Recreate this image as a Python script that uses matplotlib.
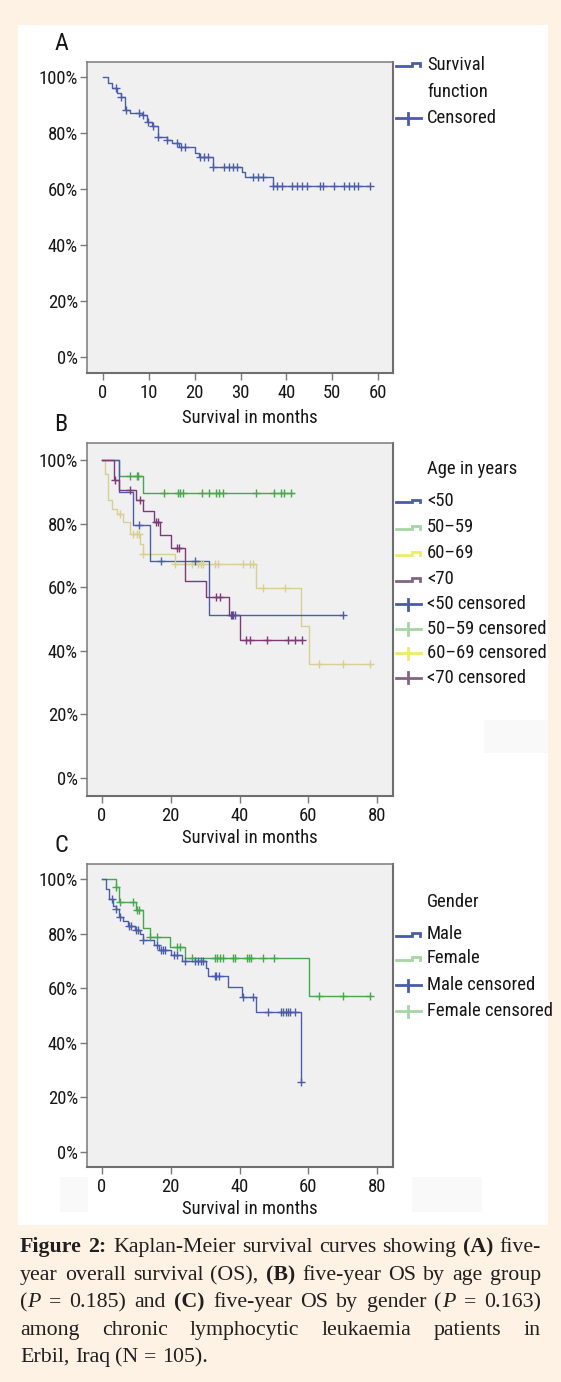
import numpy as np
import matplotlib
matplotlib.use("Agg")
import matplotlib.pyplot as plt
from matplotlib.lines import Line2D
from matplotlib.patches import Rectangle
from matplotlib import font_manager as fm

W, H = 561, 1382
DPI = 100

# ---------------- data ----------------
# Panel A: overall survival
a_times = [0, 1.0, 1.9, 3.0, 3.9, 4.8, 5.9, 8.5, 9.5, 10.8, 11.9, 13.9, 15.0, 16.6, 20.1, 21.0, 24.1, 30.3, 31.0, 37.0]
a_surv = [100, 98.0, 96.0, 94.4, 92.7, 88.2, 87.3, 86.4, 84.0, 82.6, 78.7, 77.5, 76.3, 74.9, 73.0, 71.5, 68.0, 66.2, 64.2, 61.1]
a_end = 58.3
a_cens = [2.8, 3.9, 4.95, 7.9, 8.8, 9.9, 10.85, 12.1, 14.05, 16.1, 17.0, 17.9, 21.2, 22.1, 23.0, 24.1,
          26.3, 27.4, 28.3, 29.2, 32.8, 33.9, 34.9, 37.1, 37.9, 39.0, 41.2, 42.3, 43.4, 44.5, 47.4, 48.1,
          50.3, 52.5, 53.6, 54.7, 55.7, 58.3]

# Panel B: by age group
b_lt50_times = [0, 5.0, 9.1, 14.0, 31.1]
b_lt50_surv = [100, 89.9, 79.7, 68.2, 51.2]
b_lt50_end = 70.2
b_lt50_cens = [10.85, 17.05, 27.0, 37.4, 38.0, 38.7, 70.2]

b_5059_times = [0, 5.0, 12.0]
b_5059_surv = [100, 95.1, 89.6]
b_5059_end = 55.6
b_5059_cens = [8.1, 10.1, 10.6, 18.0, 22.2, 22.7, 23.6, 29.0, 31.2, 33.1, 34.1, 35.1, 44.9, 50.1, 52.2, 52.9, 55.1]

b_6069_times = [0, 0.9, 1.8, 2.8, 4.3, 6.0, 8.1, 11.0, 11.8, 21.2, 44.8, 58.0, 60.2]
b_6069_surv = [100, 95.7, 87.3, 84.7, 82.9, 80.5, 76.8, 73.7, 70.5, 67.2, 59.8, 47.8, 35.8]
b_6069_end = 78.1
b_6069_cens = [5.2, 9.1, 10.1, 10.85, 12.0, 21.2, 26.1, 28.0, 28.7, 29.3, 32.8, 33.8, 41.1, 43.0, 44.0,
               46.7, 53.2, 63.2, 70.2, 78.1]

b_ge70_times = [0, 3.6, 5.0, 10.0, 12.0, 15.1, 16.9, 20.0, 24.1, 30.2, 36.9, 40.1]
b_ge70_surv = [100, 93.8, 90.6, 87.3, 83.9, 80.5, 76.5, 72.4, 61.9, 56.9, 51.2, 43.3]
b_ge70_end = 58.3
b_ge70_cens = [3.8, 8.1, 11.0, 15.7, 16.4, 21.9, 22.3, 33.3, 34.3, 37.7, 42.0, 43.0, 48.1, 54.2, 56.1, 58.3]

# Panel C: by gender
c_male_times = [0, 1.2, 2.1, 3.3, 4.1, 5.0, 6.2, 7.6, 9.6, 11.0, 11.8, 15.1, 16.7, 20.0, 23.2, 30.2, 30.9,
                36.7, 40.6, 44.8, 58.0]
c_male_surv = [100, 96.3, 92.7, 90.2, 89.0, 86.2, 84.5, 82.9, 81.3, 79.9, 77.7, 76.0, 74.0, 72.0, 69.9, 67.4,
               64.3, 60.4, 56.7, 51.3, 25.7]
c_male_end = 58.0
c_male_cens = [3.0, 4.1, 5.2, 7.95, 8.3, 9.9, 10.6, 12.0, 16.1, 17.05, 17.8, 18.4, 20.9, 21.9, 24.1, 27.0,
               28.0, 28.7, 29.5, 32.8, 33.3, 34.1, 41.1, 43.8, 48.2, 52.0, 52.7, 53.5, 54.2, 54.8, 56.1, 58.0]

c_fem_times = [0, 4.0, 5.0, 10.0, 12.0, 13.9, 19.9, 24.1, 60.1]
c_fem_surv = [100, 96.9, 91.4, 88.6, 82.0, 78.9, 75.0, 71.1, 57.0]
c_fem_end = 78.1
c_fem_cens = [4.1, 5.1, 9.1, 10.3, 10.85, 14.0, 16.1, 21.9, 22.7, 26.1, 32.8, 33.5, 34.3, 35.1, 38.0, 38.7,
              42.1, 42.7, 43.2, 46.9, 50.0, 63.1, 70.2, 78.1]

a_xticks = [0, 10, 20, 30, 40, 50, 60]
bc_xticks = [0, 20, 40, 60, 80]
y_ticks = [0, 20, 40, 60, 80, 100]
y_ticklabels = ["0%", "20%", "40%", "60%", "80%", "100%"]

a_legend = ["Survival\nfunction", "Censored"]
b_legend_title = "Age in years"
b_legend = ["<50", "50\u201359", "60\u201369", "<70",
            "<50 censored", "50\u201359 censored", "60\u201369 censored", "<70 censored"]
c_legend_title = "Gender"
c_legend = ["Male", "Female", "Male censored", "Female censored"]

caption_lines = [
    "*Figure 2:* Kaplan-Meier survival curves showing *(A)* five-",
    "year overall survival (OS), *(B)* five-year OS by age group",
    "(~P~ = 0.185) and *(C)* five-year OS by gender (~P~ = 0.163)",
    "among chronic lymphocytic leukaemia patients in",
    "Erbil, Iraq (N = 105).",
]

# ---------------- fonts ----------------
pref = ["Liberation Sans Narrow", "Roboto Condensed", "Open Sans Condensed", "Noto Sans Condensed",
        "DejaVu Sans Condensed"]
chosen = None
entries = fm.fontManager.ttflist
for p in pref:
    for f in entries:
        if f.name == p and f.style == "normal":
            chosen = (f.name, f.stretch)
            break
    if chosen:
        break
if chosen is None:
    for f in entries:
        if f.style == "normal" and str(f.stretch) in ("condensed", "semi-condensed") and "Sans" in f.name \
                and "Mono" not in f.name and "CJK" not in f.name:
            chosen = (f.name, f.stretch)
            break
if chosen is None:
    chosen = ("Roboto", "normal")

FONT = [chosen[0], "DejaVu Sans"]
plt.rcParams["font.family"] = FONT
plt.rcParams["font.stretch"] = chosen[1]

CAP_FONT = ["Liberation Serif", "DejaVu Serif"]
TXT = "#161616"
BG = "#fdf2e3"
AX_BG = "#f0f0f0"
SPINE = "#7a7a7a"
BLUE = "#4a5cab"
GREEN = "#45a84b"
TAN = "#d8cf92"
PURPLE = "#7e3a76"
L_GREEN = "#a6d6a6"
L_YELLOW = "#ecec6a"
L_PURPLE = "#836583"

fig = plt.figure(figsize=(W / DPI, H / DPI), dpi=DPI, facecolor=BG)
renderer = fig.canvas.get_renderer()


def text_w(s, size, **kw):
    t = fig.text(0, 0, s, fontsize=size, **kw)
    w = t.get_window_extent(renderer).width
    t.remove()
    return w


# choose chart font size so widths match the reference
ref = [("50\u201359 censored", 111.0), ("Female censored", 115.0), ("100%", 43.0)]
scales = [tw / text_w(s, 15) for s, tw in ref]
FS = min(15.5, 15 * float(np.mean(scales)) * 1.02)


def fx(x):
    return x / W


def fy(y):
    return 1 - y / H


# white panel
fig.add_artist(Rectangle((fx(18), fy(1225)), fx(548) - fx(18), fy(25) - fy(1225),
                         transform=fig.transFigure, facecolor="white", edgecolor="none", zorder=0))
for (x0, y0, x1, y1) in [(484, 720, 548, 753), (60, 1177, 88, 1212), (412, 1177, 482, 1212)]:
    fig.add_artist(Rectangle((fx(x0), fy(y1)), fx(x1) - fx(x0), fy(y0) - fy(y1),
                             transform=fig.transFigure, facecolor="#f9f9f9", edgecolor="none", zorder=0.5))


def make_ax(l, t, r, b, xlim, ylim, xticks):
    ax = fig.add_axes([fx(l), fy(b), fx(r) - fx(l), fy(t) - fy(b)])
    ax.set_facecolor(AX_BG)
    ax.set_xlim(*xlim)
    ax.set_ylim(*ylim)
    ax.set_xticks(xticks)
    ax.set_xticklabels([str(v) for v in xticks])
    ax.set_yticks(y_ticks)
    ax.set_yticklabels(y_ticklabels)
    for s in ax.spines.values():
        s.set_color(SPINE)
        s.set_linewidth(1.1)
    for k in ("right", "bottom"):
        ax.spines[k].set_linewidth(1.5)
        ax.spines[k].set_color("#6e6e6e")
    ax.tick_params(axis="both", direction="out", length=5, width=1, color=SPINE,
                   labelsize=FS, labelcolor=TXT)
    ax.tick_params(axis="y", pad=1.5)
    ax.tick_params(axis="x", pad=3)
    return ax


def km(ax, times, surv, end, cens, color, ccolor=None):
    xs = list(times) + [end]
    ys = list(surv) + [surv[-1]]
    ax.step(xs, ys, where="post", color=color, lw=1.0, zorder=3)
    t = np.asarray(times)
    s = np.asarray(surv)
    idx = np.searchsorted(t, np.asarray(cens), side="right") - 1
    ax.plot(cens, s[idx], linestyle="none", marker="+", ms=6, mew=1.0,
            color=ccolor or color, zorder=4)


axA = make_ax(87, 62, 393, 373, (-3.49, 63.27), (-5.71, 105.36), a_xticks)
km(axA, a_times, a_surv, a_end, a_cens, BLUE)

axB = make_ax(87, 443, 393, 796, (-4.36, 84.65), (-5.66, 105.35), bc_xticks)
km(axB, b_6069_times, b_6069_surv, b_6069_end, b_6069_cens, TAN)
km(axB, b_5059_times, b_5059_surv, b_5059_end, b_5059_cens, GREEN)
km(axB, b_lt50_times, b_lt50_surv, b_lt50_end, b_lt50_cens, BLUE)
km(axB, b_ge70_times, b_ge70_surv, b_ge70_end, b_ge70_cens, PURPLE)

axC = make_ax(87, 864, 393, 1167, (-4.36, 84.65), (-5.49, 105.5), bc_xticks)
km(axC, c_fem_times, c_fem_surv, c_fem_end, c_fem_cens, GREEN)
km(axC, c_male_times, c_male_surv, c_male_end, c_male_cens, BLUE)

# panel letters and x labels
for letter, y in [("A", 43), ("B", 424), ("C", 845)]:
    fig.text(fx(61), fy(y), letter, fontsize=FS * 1.3, ha="center", va="center", color=TXT)
for y in [418, 838, 1209]:
    fig.text(fx(250), fy(y), "Survival in months", fontsize=FS, ha="center", va="center", color=TXT)


# legends
def step_glyph(c, color):
    xs = [396, 412, 412, 420, 420]
    ys = [c + 1.5, c + 1.5, c - 1.5, c - 1.5, c + 1.5]
    fig.add_artist(Line2D([fx(v) for v in xs], [fy(v) for v in ys], transform=fig.transFigure,
                          color=color, lw=2.0, solid_joinstyle="miter"))


def cens_glyph(c, color):
    fig.add_artist(Line2D([fx(396), fx(421)], [fy(c), fy(c)], transform=fig.transFigure, color=color, lw=2.0))
    fig.add_artist(Line2D([fx(408), fx(408)], [fy(c - 5.5), fy(c + 5.5)], transform=fig.transFigure,
                          color=color, lw=2.0))


def leg_text(y, s):
    fig.text(fx(427), fy(y), s, fontsize=FS, ha="left", va="center", color=TXT)


# A
step_glyph(64, BLUE)
leg_text(65, a_legend[0].split("\n")[0])
leg_text(92, a_legend[0].split("\n")[1])
cens_glyph(118, BLUE)
leg_text(118, a_legend[1])

# B
leg_text(469, b_legend_title)
b_cols = [BLUE, L_GREEN, L_YELLOW, L_PURPLE]
b_ys = [501, 527, 553, 579, 604, 629, 653, 678]
for i, (lab, y) in enumerate(zip(b_legend, b_ys)):
    if i < 4:
        step_glyph(y, b_cols[i])
    else:
        cens_glyph(y, b_cols[i - 4])
    leg_text(y, lab)

# C
leg_text(902, c_legend_title)
c_cols = [BLUE, L_GREEN]
c_ys = [934, 958, 985, 1011]
for i, (lab, y) in enumerate(zip(c_legend, c_ys)):
    if i < 2:
        step_glyph(y, c_cols[i])
    else:
        cens_glyph(y, c_cols[i - 2])
    leg_text(y, lab)

# caption (justified)
CAP_COL = "#231f20"


def parse(line):
    segs = []
    bold = ital = False
    buf = ""
    for ch in line:
        if ch in "*~":
            if buf:
                segs.append((buf, bold, ital))
                buf = ""
            if ch == "*":
                bold = not bold
            else:
                ital = not ital
        else:
            buf += ch
    if buf:
        segs.append((buf, bold, ital))
    words = [[]]
    for txt, b, it in segs:
        parts = txt.split(" ")
        for j, p in enumerate(parts):
            if j > 0:
                words.append([])
            if p:
                words[-1].append((p, b, it))
    return [w for w in words if w]


def seg_w(size, s, b, it):
    return text_w(s, size, family=CAP_FONT, weight="bold" if b else "normal",
                  style="italic" if it else "normal")


L, R = 20, 541
parsed = [parse(l) for l in caption_lines]


def natural(size, words):
    sp = seg_w(size, "a a", False, False) - seg_w(size, "aa", False, False)
    return sum(seg_w(size, *sg) for w in words for sg in w) + sp * (len(words) - 1)


base_size = 14.6
nat = max(natural(base_size, parsed[k]) for k in range(3))
CAP_FS = min(16.0, base_size * (R - L) / nat * 0.985)
space_w = seg_w(CAP_FS, "a a", False, False) - seg_w(CAP_FS, "aa", False, False)

baselines = [1252, 1280, 1307, 1335, 1362]
for k, (words, base) in enumerate(zip(parsed, baselines)):
    wws = [[seg_w(CAP_FS, *sg) for sg in w] for w in words]
    tot = sum(sum(w) for w in wws)
    if k < len(parsed) - 1 and len(words) > 1:
        gap = (R - L - tot) / (len(words) - 1)
    else:
        gap = space_w
    x = L
    for w, ws in zip(words, wws):
        for (s, b, it), sw in zip(w, ws):
            fig.text(fx(x), fy(base), s, fontsize=CAP_FS, family=CAP_FONT,
                     weight="bold" if b else "normal", style="italic" if it else "normal",
                     ha="left", va="baseline", color=CAP_COL)
            x += sw
        x += gap

fig.savefig("out.png", dpi=DPI, facecolor=BG)
